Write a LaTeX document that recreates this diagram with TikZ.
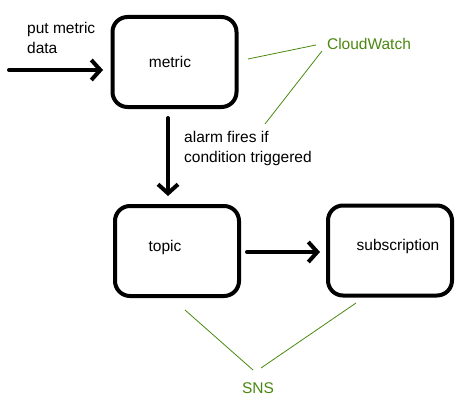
\documentclass[tikz,border=0pt]{standalone}
\usepackage{fontspec}
\setmainfont{Liberation Sans}
\usetikzlibrary{arrows.meta}
\definecolor{awsgreen}{RGB}{74,136,16}
\begin{document}
\begin{tikzpicture}[x=1pt,y=-1pt,
  box/.style={draw,line width=4pt,rounded corners=15pt,minimum width=124pt,minimum height=90pt,inner sep=0pt},
  flow/.style={line width=4pt,line cap=round,-{Straight Barb[length=9pt,width=20pt,line width=4pt]}},
  lbl/.style={font=\fontsize{15.5}{20}\selectfont,inner sep=0pt},
  note/.style={lbl,text=awsgreen},
  link/.style={awsgreen,line width=0.8pt}]
\useasboundingbox (0,0) rectangle (468,412);
\node[box] (metric) at (174.5,62) {};
\node[box] (topic) at (177,251) {};
\node[box] (sub) at (390,250.5) {};
\node[lbl] (tmetric) at (170,62) {metric};
\node[lbl] (ttopic) at (165,247) {topic};
\node[lbl] (tsub) at (398,246) {subscription};
\node[lbl,anchor=north west,align=left] (put) at (27,22) {put metric\\data};
\node[lbl,anchor=north west,align=left] (alarm) at (184,131) {alarm fires if\\condition triggered};
\node[note] (cw) at (369,44) {CloudWatch};
\node[note] (sns) at (258,388) {SNS};
\coordinate (in) at (9,70);
\coordinate (inend) at (103,70);
\coordinate (dstart) at (168,118);
\coordinate (dend) at (168,196);
\coordinate (rstart) at (247,252);
\coordinate (rend) at (320,252);
\draw[flow] (in) -- (inend);
\draw[flow] (dstart) -- (dend);
\draw[flow] (rstart) -- (rend);
\coordinate (c1) at (248,59);
\coordinate (c1e) at (316,45);
\coordinate (c2) at (265,124);
\coordinate (c2e) at (322,51);
\coordinate (s1) at (185,310);
\coordinate (s1e) at (253,370);
\coordinate (s2) at (356,303);
\coordinate (s2e) at (261,368);
\draw[link] (c1) -- (c1e);
\draw[link] (c2) -- (c2e);
\draw[link] (s1) -- (s1e);
\draw[link] (s2) -- (s2e);
\end{tikzpicture}
\end{document}
